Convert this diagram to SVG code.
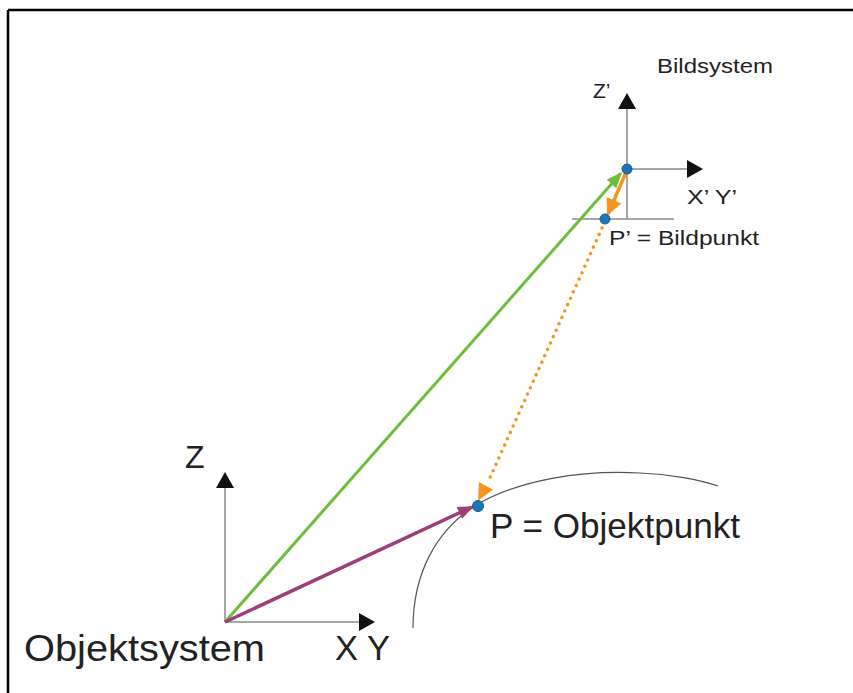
<svg xmlns="http://www.w3.org/2000/svg" width="853" height="693" viewBox="0 0 853 693">
<style>
text{font-family:"Liberation Sans",Arial,sans-serif;fill:#222}
.axis{stroke:#8a8a8a;stroke-width:1.5;fill:none}
.dot{fill:#1b75bb;stroke:#20558a;stroke-width:1}
</style>
<defs>
<marker id="ak" viewBox="0 0 16 18" refX="14" refY="9" markerWidth="16" markerHeight="18" markerUnits="userSpaceOnUse" orient="auto"><path d="M0,0 L16,9 L0,18 z" fill="#111"/></marker>
<marker id="ag" viewBox="0 0 16 13" refX="14" refY="6.5" markerWidth="16" markerHeight="13" markerUnits="userSpaceOnUse" orient="auto"><path d="M0,0 L16,6.5 L0,13 z" fill="#6cbe3c"/></marker>
<marker id="ap" viewBox="0 0 16 13" refX="14" refY="6.5" markerWidth="16" markerHeight="13" markerUnits="userSpaceOnUse" orient="auto"><path d="M0,0 L16,6.5 L0,13 z" fill="#9e3d7a"/></marker>
<marker id="ao" viewBox="0 0 17 16" refX="15" refY="8" markerWidth="17" markerHeight="16" markerUnits="userSpaceOnUse" orient="auto"><path d="M0,0 L17,8 L0,16 z" fill="#f7941d"/></marker>
</defs>
<rect width="853" height="693" fill="#fff"/>
<path d="M8,10 H853 M8,10 V693" stroke="#000" stroke-width="2.5" fill="none"/>
<g id="curve"><path d="M413,628 C413,575 435,530 478,504 C520,480 580,470 640,473 C670,474 700,480 718,486" stroke="#555" stroke-width="1.2" fill="none"/></g>
<g id="objektsystem">
<line class="axis" x1="225" y1="622" x2="225" y2="474" marker-end="url(#ak)"/>
<line class="axis" x1="225" y1="622" x2="373" y2="622" marker-end="url(#ak)"/>
<text x="185" y="468" font-size="32">Z</text>
<text x="335" y="660" font-size="35" textLength="55" lengthAdjust="spacingAndGlyphs">X Y</text>
<text x="24" y="661" font-size="36" textLength="241" lengthAdjust="spacingAndGlyphs">Objektsystem</text>
</g>
<g id="bildsystem">
<line class="axis" x1="627" y1="219" x2="627" y2="95" marker-end="url(#ak)"/>
<line class="axis" x1="627" y1="169" x2="701" y2="169" marker-end="url(#ak)"/>
<line class="axis" x1="572" y1="219" x2="674" y2="219"/>
<text x="593" y="98" font-size="21">Z’</text>
<text x="687" y="204" font-size="20" textLength="50" lengthAdjust="spacingAndGlyphs">X’ Y’</text>
<text x="657" y="73" font-size="21" textLength="116" lengthAdjust="spacingAndGlyphs">Bildsystem</text>
</g>
<g id="connectors">
<line x1="225" y1="622" x2="620.7" y2="173.5" stroke="#6cbe3c" stroke-width="3" marker-end="url(#ag)"/>
<line x1="225" y1="622" x2="472" y2="507" stroke="#9e3d7a" stroke-width="3.5" marker-end="url(#ap)"/>
<line x1="627" y1="170" x2="608" y2="214" stroke="#f7941d" stroke-width="3.5" marker-end="url(#ao)"/>
<line x1="602" y1="228" x2="489" y2="480" stroke="#f7941d" stroke-width="3.6" stroke-linecap="round" stroke-dasharray="0 7"/>
<line x1="490" y1="478" x2="479" y2="499" stroke="#f7941d" stroke-width="0.1" marker-end="url(#ao)"/>
</g>
<g id="P-bild">
<circle class="dot" cx="605" cy="219" r="5"/>
<text x="609" y="245" font-size="20" textLength="150" lengthAdjust="spacingAndGlyphs">P’ = Bildpunkt</text>
</g>
<g id="origin-bild"><circle class="dot" cx="627" cy="169" r="5"/></g>
<g id="P-objekt">
<circle class="dot" cx="478" cy="506" r="5.5"/>
<text x="490" y="538" font-size="35" textLength="250" lengthAdjust="spacingAndGlyphs">P = Objektpunkt</text>
</g>
</svg>
